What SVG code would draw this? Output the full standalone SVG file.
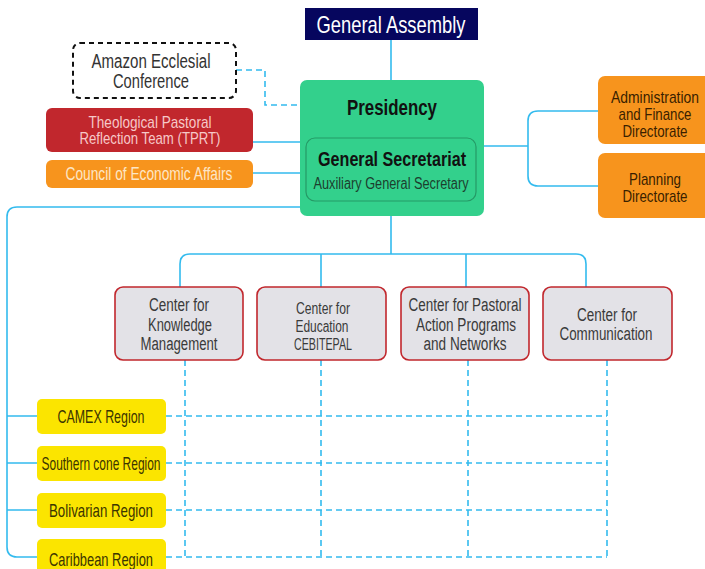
<svg xmlns="http://www.w3.org/2000/svg" width="705" height="569" viewBox="0 0 705 569">
<style>
text{font-family:"Liberation Sans",Arial,sans-serif;text-anchor:middle}
.c{fill:none;stroke:#33bbee;stroke-width:1.6}
.d{fill:none;stroke:#33bbee;stroke-width:1.6;stroke-dasharray:6 4}
.ctr rect{fill:#e3e2e7;stroke:#c1272d;stroke-width:1.6}
.ctr text{fill:#3a3a3a;font-size:18px}
.reg rect{fill:#fbe500}
.reg text{fill:#3b3500;font-size:19px}
.org rect{fill:#f7941d}
.org text{fill:#3a1f00;font-size:17px}
</style>
<rect width="705" height="569" fill="#fff"/>
<g id="connectors">
<path class="c" d="M391,40 V80"/>
<path class="c" d="M253,142 H300 M253,173 H300"/>
<path class="c" d="M484,146 H528 M598,111 H538 Q528,111 528,121 V176 Q528,186 538,186 H598"/>
<path class="c" d="M300,207 H17 Q7,207 7,217 V547 Q7,557 17,557 H37 M7,416 H37 M7,463 H37 M7,510 H37"/>
<path class="c" d="M391,216 V254 M180,287 V264 Q180,254 190,254 H576 Q586,254 586,264 V287 M321,254 V287 M466,254 V287"/>
<path class="d" d="M236,70 H265 V105 H300"/>
<path class="d" d="M166,416 H607 M166,463 H607 M166,510 H607 M166,557 H607 M185,360 V557 M321,360 V557 M468,360 V557 M607,360 V557"/>
</g>
<g id="general-assembly">
<rect x="305" y="8" width="173" height="32" fill="#06065e"/>
<text x="391" y="33" font-size="24" fill="#fff" textLength="149" lengthAdjust="spacingAndGlyphs">General Assembly</text>
</g>
<g id="presidency">
<rect x="300" y="80" width="184" height="136" rx="7" fill="#33d08c"/>
<text x="392" y="115" font-size="22" font-weight="bold" fill="#111" textLength="90" lengthAdjust="spacingAndGlyphs">Presidency</text>
</g>
<g id="general-secretariat">
<rect x="306" y="138" width="170" height="63" rx="9" fill="none" stroke="#259a66" stroke-width="1.2"/>
<text x="392" y="166" font-size="20" font-weight="bold" fill="#111" textLength="148" lengthAdjust="spacingAndGlyphs">General Secretariat</text>
<text x="391" y="189" font-size="16" fill="#1c3e2e" textLength="155" lengthAdjust="spacingAndGlyphs">Auxiliary General Secretary</text>
</g>
<g id="amazon">
<rect x="73" y="43" width="163" height="55" rx="7" fill="none" stroke="#111" stroke-width="2" stroke-dasharray="5 4"/>
<text x="151" y="68" font-size="20" fill="#333" textLength="119" lengthAdjust="spacingAndGlyphs">Amazon Ecclesial</text>
<text x="151" y="88" font-size="20" fill="#333" textLength="76" lengthAdjust="spacingAndGlyphs">Conference</text>
</g>
<g id="tprt">
<rect x="46" y="108" width="207" height="44" rx="6" fill="#c1272d"/>
<text x="150" y="128" font-size="17" fill="#f6c8c8" textLength="123" lengthAdjust="spacingAndGlyphs">Theological Pastoral</text>
<text x="150" y="144" font-size="17" fill="#f6c8c8" textLength="141" lengthAdjust="spacingAndGlyphs">Reflection Team (TPRT)</text>
</g>
<g id="council">
<rect x="46" y="160" width="207" height="28" rx="6" fill="#f7941d"/>
<text x="149" y="180" font-size="19" fill="#fde6c6" textLength="167" lengthAdjust="spacingAndGlyphs">Council of Economic Affairs</text>
</g>
<g id="admin" class="org">
<rect x="598" y="76" width="115" height="68" rx="7"/>
<text x="655" y="103" textLength="88" lengthAdjust="spacingAndGlyphs">Administration</text>
<text x="655" y="120" textLength="73" lengthAdjust="spacingAndGlyphs">and Finance</text>
<text x="655" y="137" textLength="65" lengthAdjust="spacingAndGlyphs">Directorate</text>
</g>
<g id="planning" class="org">
<rect x="598" y="153" width="115" height="65" rx="7"/>
<text x="655" y="185" textLength="52" lengthAdjust="spacingAndGlyphs">Planning</text>
<text x="655" y="202" textLength="65" lengthAdjust="spacingAndGlyphs">Directorate</text>
</g>
<g id="center-knowledge" class="ctr">
<rect x="115" y="287" width="128" height="73" rx="8"/>
<text x="179" y="311" textLength="60" lengthAdjust="spacingAndGlyphs">Center for</text>
<text x="180" y="331" textLength="64" lengthAdjust="spacingAndGlyphs">Knowledge</text>
<text x="179" y="350" textLength="77" lengthAdjust="spacingAndGlyphs">Management</text>
</g>
<g id="center-education" class="ctr">
<rect x="257" y="287" width="129" height="73" rx="8"/>
<text x="323" y="314" textLength="54" lengthAdjust="spacingAndGlyphs" style="font-size:16px">Center for</text>
<text x="322" y="332" textLength="53" lengthAdjust="spacingAndGlyphs" style="font-size:16px">Education</text>
<text x="323" y="350" textLength="58" lengthAdjust="spacingAndGlyphs" style="font-size:16px">CEBITEPAL</text>
</g>
<g id="center-pastoral" class="ctr">
<rect x="401" y="287" width="128" height="73" rx="8"/>
<text x="465" y="311" textLength="113" lengthAdjust="spacingAndGlyphs">Center for Pastoral</text>
<text x="466" y="331" textLength="100" lengthAdjust="spacingAndGlyphs">Action Programs</text>
<text x="465" y="350" textLength="83" lengthAdjust="spacingAndGlyphs">and Networks</text>
</g>
<g id="center-communication" class="ctr">
<rect x="543" y="287" width="129" height="73" rx="8"/>
<text x="607" y="321" textLength="60" lengthAdjust="spacingAndGlyphs">Center for</text>
<text x="606" y="340" textLength="93" lengthAdjust="spacingAndGlyphs">Communication</text>
</g>
<g id="camex" class="reg">
<rect x="37" y="399" width="129" height="35" rx="5"/>
<text x="101" y="423" textLength="87" lengthAdjust="spacingAndGlyphs">CAMEX Region</text>
</g>
<g id="southern-cone" class="reg">
<rect x="37" y="446" width="129" height="35" rx="5"/>
<text x="101" y="470" textLength="119" lengthAdjust="spacingAndGlyphs">Southern cone Region</text>
</g>
<g id="bolivarian" class="reg">
<rect x="37" y="493" width="129" height="35" rx="5"/>
<text x="101" y="517" textLength="104" lengthAdjust="spacingAndGlyphs">Bolivarian Region</text>
</g>
<g id="caribbean" class="reg">
<rect x="37" y="539" width="129" height="36" rx="5"/>
<text x="101" y="566" textLength="104" lengthAdjust="spacingAndGlyphs">Caribbean Region</text>
</g>
</svg>
